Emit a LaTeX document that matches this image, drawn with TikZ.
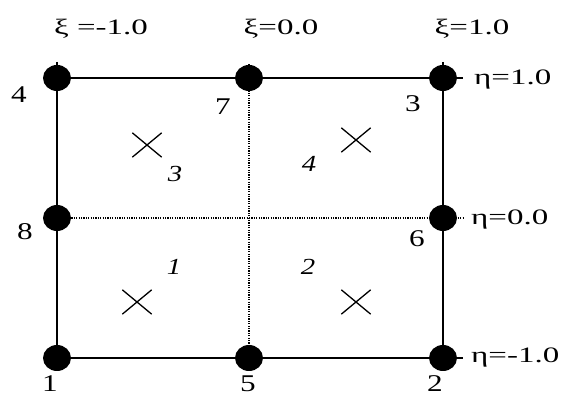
\documentclass[tikz,border=0pt]{standalone}
\usepackage{fontspec}
\usepackage{graphicx}
\setmainfont{Liberation Serif}
\usetikzlibrary{shapes.geometric,shapes.misc}
\newcommand{\coordlab}[1]{\scalebox{1.5}[1]{\fontsize{22}{22}\selectfont #1}}
\newcommand{\nodenum}[1]{\scalebox{1.3}[1]{\fontsize{24}{24}\selectfont #1}}
\newcommand{\regnum}[1]{\scalebox{1.25}[1]{\fontsize{23}{23}\selectfont\itshape #1}}
\begin{document}
\begin{tikzpicture}[x=1pt,y=1pt,
  dot/.style={ellipse,fill=black,minimum width=28pt,minimum height=26pt,inner sep=0pt},
  edge/.style={line width=1.8pt},
  dotline/.style={line width=1.4pt,dash pattern=on 1.2pt off 1.2pt},
  gauss/.style={cross out,draw,line width=1.3pt,minimum width=28pt,minimum height=23pt,inner sep=0pt},
  lab/.style={inner sep=0pt,anchor=base},
  elab/.style={inner sep=0pt,anchor=base west}]
\useasboundingbox (0,0) rectangle (579,398);
% corner and mid-side nodes
\coordinate (p1) at (57,40);
\coordinate (p5) at (249,40);
\coordinate (p2) at (443,40);
\coordinate (p6) at (443,180);
\coordinate (p3) at (443,320);
\coordinate (p7) at (249,320);
\coordinate (p4) at (57,320);
\coordinate (p8) at (57,180);
\coordinate (t4) at (57,336);
\coordinate (t3) at (443,336);
\coordinate (t7) at (249,334);
\coordinate (r3) at (463,320);
\coordinate (r6) at (463,180);
\coordinate (r2) at (463,40);
% interior dotted lines
\draw[dotline] (p8) -- (r6);
\draw[dotline] (t7) -- (p5);
% boundary
\draw[edge] (t4) -- (p1) -- (r2);
\draw[edge] (t3) -- (p2);
\draw[edge] (p4) -- (r3);
% dots
\foreach \n in {1,...,8} \node[dot] (d\n) at (p\n) {};
% xi labels
\node[lab] (xa) at (101,363) {\coordlab{ξ =-1.0}};
\node[lab] (xb) at (281,363) {\coordlab{ξ=0.0}};
\node[lab] (xc) at (472,363) {\coordlab{ξ=1.0}};
% eta labels
\node[elab] (ea) at (474,313) {\coordlab{η=1.0}};
\node[elab] (eb) at (471,173) {\coordlab{η=0.0}};
\node[elab] (ec) at (471,35) {\coordlab{η=-1.0}};
% node numbers
\node[lab] (l4) at (19,295) {\nodenum{4}};
\node[lab] (l7) at (223,283) {\nodenum{7}};
\node[lab] (l3) at (413,286) {\nodenum{3}};
\node[lab] (l8) at (25,158) {\nodenum{8}};
\node[lab] (l6) at (417,151) {\nodenum{6}};
\node[lab] (l1) at (50,6) {\nodenum{1}};
\node[lab] (l5) at (248,6) {\nodenum{5}};
\node[lab] (l2) at (435,6) {\nodenum{2}};
% region numbers
\node[lab] (g3) at (175,216) {\regnum{3}};
\node[lab] (g4) at (309,226) {\regnum{4}};
\node[lab] (g1) at (174,123) {\regnum{1}};
\node[lab] (g2) at (308,123) {\regnum{2}};
% Gauss points
\node[gauss] (c3) at (147,253) {};
\node[gauss] (c4) at (356,258) {};
\node[gauss] (c1) at (137,96) {};
\node[gauss] (c2) at (356,96) {};
\end{tikzpicture}
\end{document}
